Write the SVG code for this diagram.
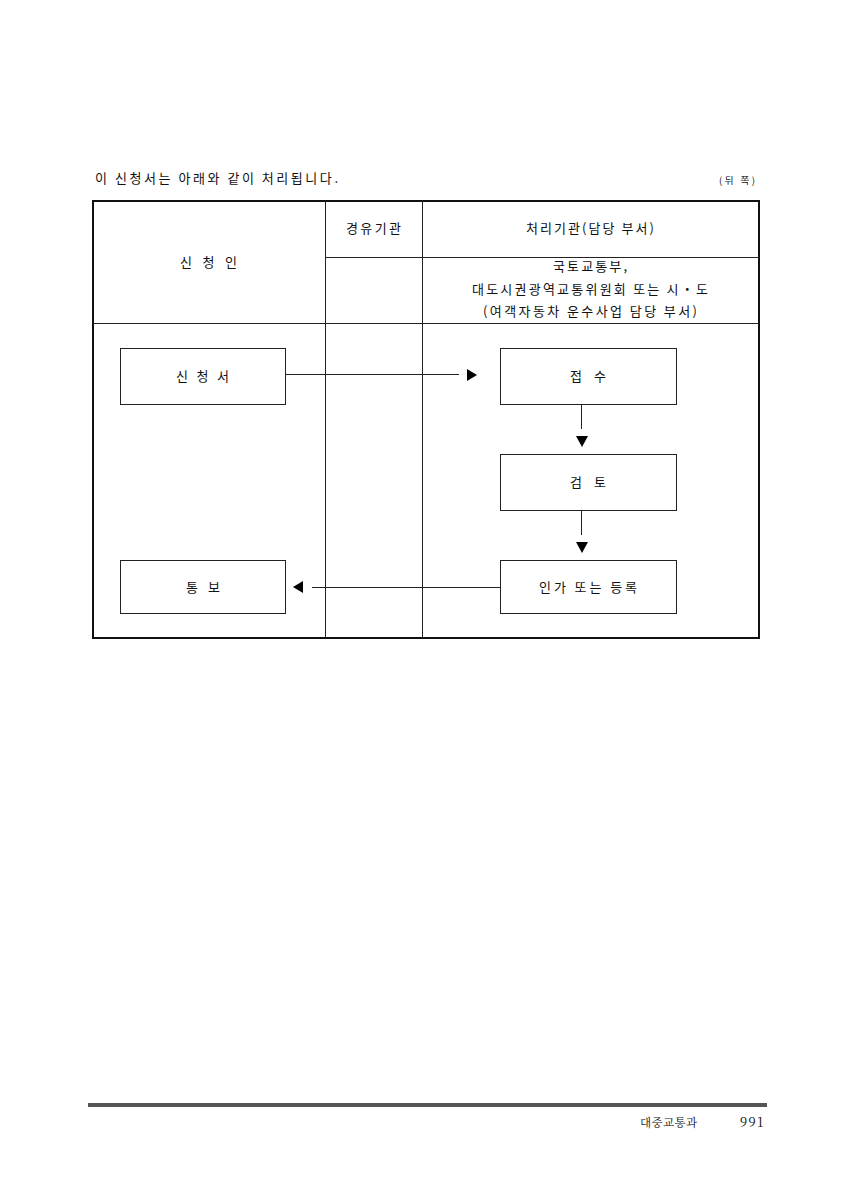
<svg xmlns="http://www.w3.org/2000/svg" width="854" height="1200" viewBox="0 0 854 1200">
<style>
text{font-family:"Noto Sans CJK KR","Noto Sans",sans-serif;fill:#111;}
.t{font-size:13px;text-anchor:middle;}
.box{fill:#fff;stroke:#222;stroke-width:1;}
.ln{stroke:#222;stroke-width:1;fill:none;}
.serif{font-family:"Noto Serif CJK KR","Liberation Serif","Noto Sans CJK KR",serif;}
</style>
<rect width="854" height="1200" fill="#fff"/>
<text x="95" y="183" font-size="13" textLength="243" lengthAdjust="spacing">이 신청서는 아래와 같이 처리됩니다.</text>
<text x="719" y="184" font-size="9.5" textLength="36" lengthAdjust="spacing">(뒤 쪽)</text>
<g id="table">
<rect x="93" y="201" width="666" height="437" fill="none" stroke="#111" stroke-width="2"/>
<line class="ln" x1="325.5" y1="201" x2="325.5" y2="638"/>
<line class="ln" x1="422.5" y1="201" x2="422.5" y2="638"/>
<line class="ln" x1="325" y1="257.5" x2="759" y2="257.5"/>
<line class="ln" x1="93" y1="323.5" x2="759" y2="323.5"/>
<text class="t" x="208.5" y="267" textLength="57" lengthAdjust="spacing">신 청 인</text>
<text class="t" x="373.5" y="233" textLength="55" lengthAdjust="spacing">경유기관</text>
<text class="t" x="590" y="233" textLength="128" lengthAdjust="spacing">처리기관(담당 부서)</text>
<text class="t" x="590" y="271" textLength="74" lengthAdjust="spacing">국토교통부,</text>
<text class="t" x="590" y="294" textLength="236" lengthAdjust="spacing">대도시권광역교통위원회 또는 시・도</text>
<text class="t" x="590" y="316" textLength="214" lengthAdjust="spacing">(여객자동차 운수사업 담당 부서)</text>
</g>
<g id="n-apply"><rect class="box" x="120.5" y="348.5" width="165" height="56"/><text class="t" x="202.5" y="381" textLength="53" lengthAdjust="spacing">신 청 서</text></g>
<g id="n-receive"><rect class="box" x="500.5" y="348.5" width="176" height="56"/><text class="t" x="588" y="381" textLength="36" lengthAdjust="spacing">접 수</text></g>
<g id="n-review"><rect class="box" x="500.5" y="454.5" width="176" height="56"/><text class="t" x="588" y="487" textLength="36" lengthAdjust="spacing">검 토</text></g>
<g id="n-approve"><rect class="box" x="500.5" y="560.5" width="176" height="53"/><text class="t" x="588" y="592" textLength="98" lengthAdjust="spacing">인가 또는 등록</text></g>
<g id="n-notify"><rect class="box" x="120.5" y="560.5" width="165" height="53"/><text class="t" x="203" y="592" textLength="34" lengthAdjust="spacing">통 보</text></g>
<g id="connectors">
<line class="ln" x1="286" y1="374.5" x2="459" y2="374.5"/>
<polygon points="467,369 477,375 467,381" fill="#000"/>
<line class="ln" x1="581.5" y1="405" x2="581.5" y2="429"/>
<polygon points="576,436 588,436 582,447" fill="#000"/>
<line class="ln" x1="581.5" y1="511" x2="581.5" y2="535"/>
<polygon points="576,542 588,542 582,553" fill="#000"/>
<line class="ln" x1="500" y1="587.5" x2="312" y2="587.5"/>
<polygon points="303,581 293,587 303,593" fill="#000"/>
</g>
<rect x="88" y="1103" width="679" height="4" fill="#555"/>
<text class="serif" x="640" y="1127" font-size="11.5" textLength="57" lengthAdjust="spacing">대중교통과</text>
<text class="serif" x="740" y="1127" font-size="13" textLength="24" lengthAdjust="spacing">991</text>
</svg>
